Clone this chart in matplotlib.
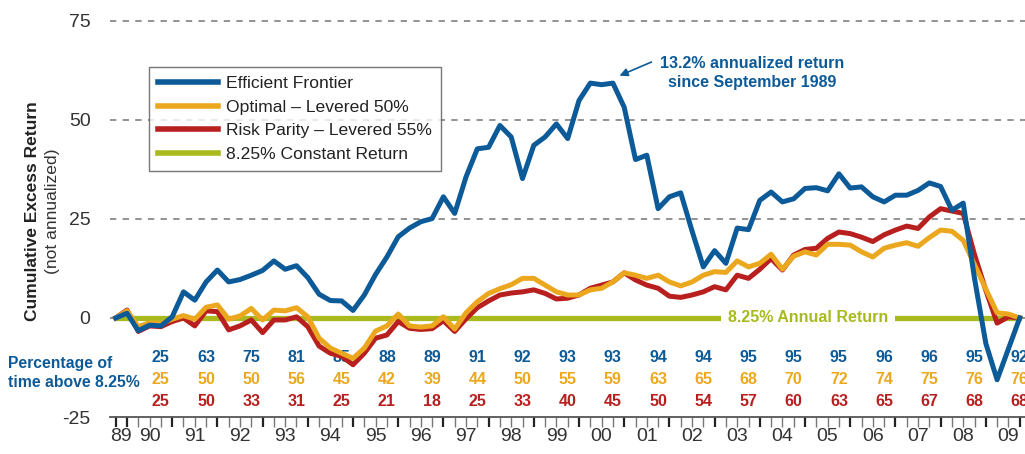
import matplotlib.pyplot as plt
import numpy as np

plt.rcParams['font.family'] = ['Liberation Sans', 'DejaVu Sans']

C_BLUE = '#0d5a98'
C_GOLD = '#eba81f'
C_RED = '#b8201f'
C_GREEN = '#a8ba1e'

# quarterly points, Sep 1989 .. Sep 2009
start_year = 1989.75
efficient = [0, 1.2, -3.2, -1.8, -2.0, 0.3, 6.6, 4.5, 9.1, 12.1,
             9.1, 9.7, 10.8, 12.0, 14.4, 12.3, 13.2, 10.2, 6.0, 4.4,
             4.3, 1.9, 5.8, 11.0, 15.4, 20.5, 22.7, 24.3, 25.1, 30.6,
             26.4, 35.6, 42.7, 43.1, 48.6, 45.7, 35.2, 43.6, 45.7, 49.0,
             45.3, 54.9, 59.3, 58.9, 59.3, 53.2, 40.0, 41.1, 27.6, 30.6,
             31.6, 22.0, 12.9, 17.0, 13.8, 22.7, 22.3, 29.7, 31.8, 29.3,
             30.1, 32.7, 32.9, 32.1, 36.4, 32.8, 33.1, 30.6, 29.3, 31.0,
             31.0, 32.2, 34.1, 33.2, 27.2, 29.0, 10.0, -6.4, -15.6, -7.8,
             0]
optimal = [0, 1.8, -2.2, -1.2, -1.4, -0.3, 0.6, -0.3, 2.7, 3.3,
           -0.3, 0.5, 2.4, -0.5, 2.0, 1.8, 2.6, 0.3, -5.1, -7.6,
           -8.9, -10.2, -7.6, -3.3, -2.0, 1.0, -2.0, -2.3, -2.0, 0.3,
           -2.8, 1.3, 4.1, 6.2, 7.4, 8.4, 10.0, 10.0, 8.3, 6.6,
           5.8, 5.8, 7.1, 7.5, 9.1, 11.4, 10.8, 10.0, 10.8, 9.1,
           8.1, 9.1, 10.8, 11.7, 11.5, 14.4, 12.9, 13.8, 16.1, 12.3,
           15.6, 16.7, 15.9, 18.6, 18.6, 18.4, 16.7, 15.4, 17.6, 18.4,
           19.0, 18.1, 20.3, 22.2, 21.9, 19.6, 13.5, 7.3, 1.3, 1.0,
           0]
risk_parity = [0, 2.0, -3.4, -2.0, -2.2, -0.9, 0.0, -2.0, 1.8, 1.6,
               -3.0, -2.0, -0.5, -3.7, -0.5, -0.5, 0.3, -2.2, -7.1, -8.9,
               -9.7, -11.8, -8.9, -5.1, -4.3, -0.9, -2.6, -2.9, -2.7, -0.7,
               -3.4, -0.2, 2.6, 4.3, 5.8, 6.3, 6.6, 7.1, 6.2, 4.8,
               5.0, 5.8, 7.5, 8.3, 9.1, 11.4, 9.6, 8.3, 7.5, 5.5,
               5.2, 5.8, 6.6, 7.9, 7.1, 10.8, 10.0, 12.3, 15.0, 12.1,
               15.9, 17.3, 17.6, 20.1, 21.7, 21.3, 20.4, 19.3, 21.0, 22.2,
               23.2, 22.6, 25.5, 27.6, 27.0, 26.4, 16.0, 7.0, -1.3, 0.3,
               0]
constant = [0] * len(efficient)

# percentage of time above 8.25%, measured each September
pct_years = list(range(1990, 2010))
pct_efficient = [25, 63, 75, 81, 85, 88, 89, 91, 92, 93, 93, 94, 94, 95, 95, 95, 96, 96, 95, 92]
pct_optimal = [25, 50, 50, 56, 45, 42, 39, 44, 50, 55, 59, 63, 65, 68, 70, 72, 74, 75, 76, 76]
pct_risk = [25, 50, 33, 31, 25, 21, 18, 25, 33, 40, 45, 50, 54, 57, 60, 63, 65, 67, 68, 68]

year_labels = ['89', '90', '91', '92', '93', '94', '95', '96', '97', '98', '99',
               '00', '01', '02', '03', '04', '05', '06', '07', '08', '09']

t = start_year + 0.25 * np.arange(len(efficient))

fig = plt.figure(figsize=(10.25, 4.54), dpi=100)
ax = fig.add_axes([110 / 1025, 37 / 454, 915 / 1025, 404 / 454])

ax.set_xlim(1989.624, 2009.867)
ax.set_ylim(-25, 77)

# dashed grid
for yv in [0, 25, 50, 75]:
    ax.axhline(yv, color='#8a8a8a', lw=1.3, ls=(0, (3.5, 3.5)), zorder=1)

ax.plot(t, constant, color=C_GREEN, lw=3.8, solid_capstyle='butt', zorder=2)
ax.plot(t, risk_parity, color=C_RED, lw=3.6, zorder=4)
ax.plot(t, optimal, color=C_GOLD, lw=3.6, zorder=5)
ax.plot(t, efficient, color=C_BLUE, lw=3.6, zorder=6)

ax.text(2005.07, 0, '8.25% Annual Return', color=C_GREEN, fontsize=11.5,
        fontweight='bold', ha='center', va='center', zorder=3,
        bbox=dict(facecolor='white', edgecolor='none', boxstyle='square,pad=0.45'))

# percentage rows
for yr, a, b, c in zip(pct_years, pct_efficient, pct_optimal, pct_risk):
    x = yr + 0.75
    ax.text(x, -9.9, str(a), color=C_BLUE, fontsize=11.5, fontweight='bold', ha='center', va='center', zorder=3)
    ax.text(x, -15.6, str(b), color=C_GOLD, fontsize=11.5, fontweight='bold', ha='center', va='center', zorder=3)
    ax.text(x, -21.2, str(c), color=C_RED, fontsize=11.5, fontweight='bold', ha='center', va='center', zorder=3)

fig.text(8 / 1025, 1 - 373 / 454, 'Percentage of\ntime above 8.25%', color=C_BLUE,
         fontsize=11.3, fontweight='bold', ha='left', va='center', linespacing=1.4)

# annotation
ax.annotate('', xy=(2000.84, 60.9), xytext=(2001.66, 64.9),
            arrowprops=dict(arrowstyle='-|>', color=C_BLUE, lw=1.2, mutation_scale=12))
ax.text(2003.83, 61.9, '13.2% annualized return\nsince September 1989', color=C_BLUE,
        fontsize=11.5, fontweight='bold', ha='center', va='center', linespacing=1.35)

# axes styling
for s in ['top', 'right', 'left']:
    ax.spines[s].set_visible(False)
ax.spines['bottom'].set_color('#555555')
ax.spines['bottom'].set_linewidth(1.3)

ax.set_yticks([-25, 0, 25, 50, 75])
ax.set_yticklabels(['-25', '0', '25', '50', '75'], fontsize=14, color='#333333')
ax.tick_params(axis='y', length=0, pad=14)

major = [1989.75] + list(range(1990, 2010)) + [2009.75]
minor = list(start_year + 0.25 * np.arange(81))
ax.set_xticks(major)
ax.set_xticklabels([''] * len(major))
ax.set_xticks(minor, minor=True)
ax.tick_params(axis='x', which='major', length=7.5, width=1.6, color='#222222', direction='out')
ax.tick_params(axis='x', which='minor', length=7.5, width=1.0, color='#777777', direction='out')

# year labels centred on each year span
label_pos = [1989.875] + [y + 0.5 for y in range(1990, 2010)]
for lp, lab in zip(label_pos, year_labels):
    ax.text(lp, -30.0, lab, fontsize=14, color='#333333', ha='center', va='center', clip_on=False)

ax.text(-0.085, 0.51, 'Cumulative Excess Return', transform=ax.transAxes, rotation=90,
        fontsize=12.5, fontweight='bold', ha='center', va='center', color='#222222')
ax.text(-0.063, 0.51, '(not annualized)', transform=ax.transAxes, rotation=90,
        fontsize=12.6, ha='center', va='center', color='#333333')

handles = [plt.Line2D([0], [0], color=C_BLUE, lw=4),
           plt.Line2D([0], [0], color=C_GOLD, lw=4),
           plt.Line2D([0], [0], color=C_RED, lw=4),
           plt.Line2D([0], [0], color=C_GREEN, lw=4)]
leg = fig.legend(handles, ['Efficient Frontier', 'Optimal \u2013 Levered 50%',
                           'Risk Parity \u2013 Levered 55%', '8.25% Constant Return'],
                 loc='upper left', bbox_to_anchor=(149 / 1025, 1 - 67 / 454),
                 fontsize=12.6, frameon=True, fancybox=False, handlelength=3.45,
                 handletextpad=0.46, labelspacing=0.48, borderpad=0.5, borderaxespad=0)
leg.get_frame().set_edgecolor('#555555')
leg.get_frame().set_linewidth(1.0)
for txt in leg.get_texts():
    txt.set_color('#222222')

fig.savefig('out.png', dpi=100)
